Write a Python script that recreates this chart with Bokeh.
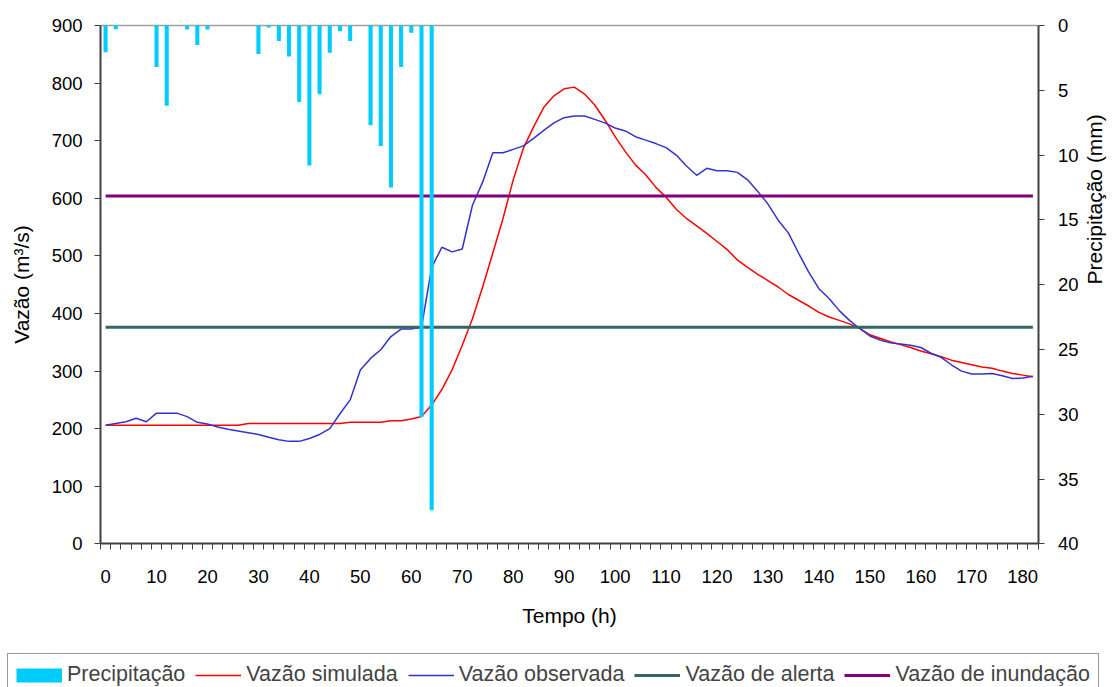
import math
from bokeh.plotting import figure
from bokeh.models import (Range1d, LinearAxis, FixedTicker, Legend, LegendItem,
                          ColumnDataSource)
from bokeh.embed import file_html
from bokeh.resources import INLINE

# ---------------- data ----------------
hours = list(range(0, 184, 2))  # 0..182 h, every 2 h

precip = [2.06, 0.29, 0, 0, 0, 3.2, 6.2, 0, 0.3, 1.5,
          0.3, 0, 0, 0, 0, 2.2, 0.15, 1.2, 2.4, 5.9,
          10.8, 5.3, 2.1, 0.45, 1.2, 0, 7.7, 9.3, 12.5, 3.2,
          0.55, 30.2, 37.4] + [0] * 59

q_sim = [206] * 14 + [209] * 10 + [211] * 4 + [214, 214, 217, 221,
         241, 268, 302, 345, 391, 446, 505, 565, 632, 687,
         724, 758, 778, 790, 793, 781, 762, 736, 707, 681,
         658, 641, 619, 602, 581, 565, 552, 539, 525, 511,
         493, 480, 468, 457, 446, 433, 423, 413, 402, 394,
         388, 382, 374, 363, 357, 351, 346, 341, 335, 330,
         325, 319, 315, 311, 307, 305, 300, 296, 293, 290]

q_obs = [206, 209, 212, 218, 212, 227, 227, 227, 221, 211,
         208, 203, 199, 196, 193, 190, 185, 181, 178, 178,
         183, 190, 200, 226, 250, 302, 322, 337, 360, 373,
         373, 376, 480, 515, 507, 512, 588, 628, 679, 679,
         685, 691, 704, 718, 731, 740, 743, 743, 737, 731,
         722, 717, 707, 701, 695, 688, 675, 656, 640, 652,
         648, 648, 645, 632, 612, 590, 562, 540, 505, 472,
         443, 426, 405, 388, 374, 361, 354, 349, 347, 345,
         341, 331, 324, 311, 300, 295, 295, 296, 292, 287,
         288, 291]

q_alerta = 376
q_inundacao = 604

x_labels = list(range(0, 181, 10))
left_ticks = list(range(0, 901, 100))
right_ticks = list(range(0, 41, 5))

# ---------------- layout geometry (pixels) ----------------
W, H = 1112, 687
PL, PR, PT, PB = 100.0, 1037.5, 25.0, 543.4   # plot area edges
x0, x1 = hours[0] - 1, hours[-1] + 1           # category edges
q0, q1 = left_ticks[0], left_ticks[-1]
m0, m1 = right_ticks[0], right_ticks[-1]

sx = (PR - PL) / (x1 - x0)
sq = (PB - PT) / (q1 - q0)
sm = (PB - PT) / (m1 - m0)

FONT = "Liberation Sans"
AXIS_COLOR = "#404040"

p = figure(width=W, height=H,
           x_range=Range1d(x0 - PL / sx, x1 + (W - PR) / sx),
           y_range=Range1d(q0 - (H - PB) / sq, q1 + PT / sq),
           output_backend="svg", toolbar_location=None, min_border=0)
p.extra_y_ranges = {"precip": Range1d(m1 + (H - PB) / sm, m0 - PT / sm)}
p.xgrid.visible = False
p.ygrid.visible = False
p.outline_line_color = None
p.background_fill_color = "white"
p.border_fill_color = "white"

# top border of the plot area
p.line([x0, x1], [q1, q1], line_color="#A0A0A0", line_width=1.5)

r_sim = p.line(hours, q_sim, line_color="#FF0000", line_width=1.5)
r_obs = p.line(hours, q_obs, line_color="#3333CC", line_width=1.5)
r_al = p.line(hours, [q_alerta] * len(hours), line_color="#336666", line_width=3)
r_in = p.line(hours, [q_inundacao] * len(hours), line_color="#800080", line_width=3)

bar_src = ColumnDataSource(dict(x=[h for h, v in zip(hours, precip) if v > 0],
                                top=[v for v in precip if v > 0]))
p.vbar(x="x", top="top", bottom=0, width=0.8, source=bar_src, y_range_name="precip",
       fill_color="#00CCFF", line_color=None)
# legend swatch for the bars (a single point: draws nothing in the plot)
r_pr_leg = p.line(x=[hours[0]], y=[q0], line_color="#00CCFF", line_width=14,
                  line_cap="butt")

# x axis (fixed at the plot-area bottom)
xa = p.xaxis[0]
xa.fixed_location = q0
xa.bounds = (x0, x1)
xa.ticker = FixedTicker(ticks=x_labels, minor_ticks=[h - 1 for h in hours] + [x1])
xa.major_tick_line_color = None
xa.minor_tick_line_color = AXIS_COLOR
xa.minor_tick_out = 6
xa.minor_tick_in = 0
xa.axis_line_color = AXIS_COLOR
xa.axis_line_width = 2
xa.axis_label = "Tempo (h)"
xa.major_label_standoff = 20
xa.axis_label_standoff = 18

# left axis
ya = p.yaxis[0]
ya.fixed_location = x0
ya.bounds = (q0, q1)
ya.ticker = FixedTicker(ticks=left_ticks)
ya.major_tick_out = 6
ya.major_tick_in = 0
ya.minor_tick_line_color = None
ya.major_tick_line_color = AXIS_COLOR
ya.axis_line_color = AXIS_COLOR
ya.axis_line_width = 2
ya.axis_label = "Vazão (m³/s)"
ya.major_label_standoff = 12
ya.axis_label_standoff = 16

# right axis
ra = LinearAxis(y_range_name="precip", ticker=FixedTicker(ticks=right_ticks),
                axis_label="Precipitação (mm)", fixed_location=x1, bounds=(m0, m1))
ra.major_tick_out = 6
ra.major_tick_in = 0
ra.minor_tick_line_color = None
ra.major_tick_line_color = AXIS_COLOR
ra.axis_line_color = AXIS_COLOR
ra.axis_line_width = 2
ra.major_label_standoff = 14
ra.axis_label_standoff = 12
ra.axis_label_orientation = math.pi / 2
p.add_layout(ra, "right")

for ax in (xa, ya, ra):
    ax.major_label_text_font = FONT
    ax.major_label_text_font_size = "18.5px"
    ax.major_label_text_color = "black"
    ax.axis_label_text_font = FONT
    ax.axis_label_text_font_size = "21px"
    ax.axis_label_text_font_style = "normal"
    ax.axis_label_text_color = "black"

legend = Legend(items=[
    LegendItem(label="Precipitação", renderers=[r_pr_leg]),
    LegendItem(label="Vazão simulada", renderers=[r_sim]),
    LegendItem(label="Vazão observada", renderers=[r_obs]),
    LegendItem(label="Vazão de alerta", renderers=[r_al]),
    LegendItem(label="Vazão de inundação", renderers=[r_in]),
], orientation="horizontal", location=(7, -9), margin=0,
    glyph_width=46, glyph_height=20, label_height=22, label_standoff=5,
    spacing=10, padding=8, label_text_font=FONT, label_text_font_size="21.5px",
    border_line_color="#333333", border_line_width=1, background_fill_alpha=1.0)
p.add_layout(legend)

open("out.html", "w").write(file_html(p, INLINE))
